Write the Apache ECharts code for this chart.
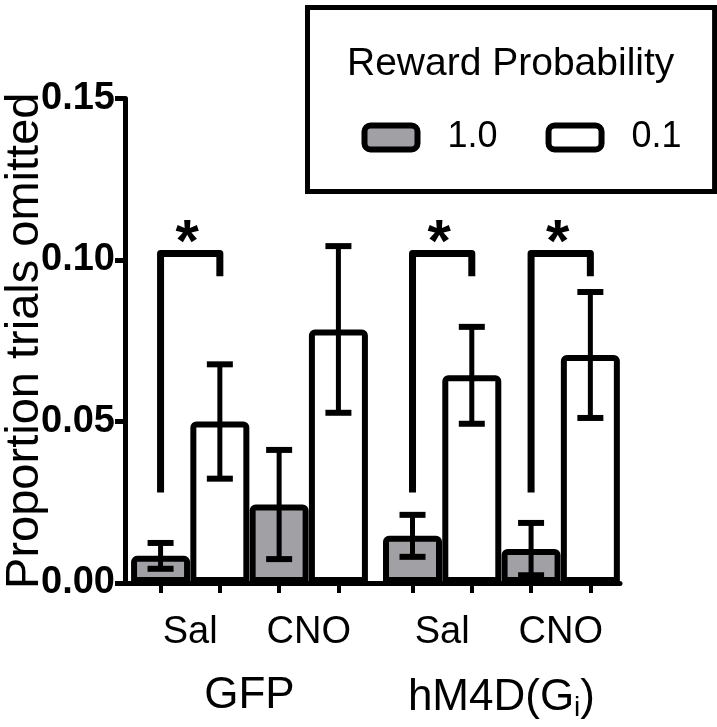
<!DOCTYPE html>
<html><head><meta charset="utf-8">
<script src="https://cdn.jsdelivr.net/npm/echarts@6/dist/echarts.min.js"></script>
<style>html,body{margin:0;padding:0;background:#fff}#c{width:717px;height:727px}</style>
</head><body><div id="c"></div>
<script>
// ---- data ----
const conditions = ['Sal', 'CNO', 'Sal', 'CNO'];
const genotypeLabels = ['GFP', 'hM4D(G{sub|i})'];
const seriesNames = ['1.0', '0.1'];
const mean10 = [0.0084, 0.0243, 0.0146, 0.0105];
const sem10  = [0.0040, 0.0169, 0.0065, 0.0081];
const mean01 = [0.0500, 0.0785, 0.0643, 0.0706];
const sem01  = [0.0177, 0.0258, 0.0150, 0.0195];
const yTicks = [0.00, 0.05, 0.10, 0.15];
// significance brackets (condition index, left-leg bottom, top, right-leg bottom)
const sigCond = [0, 2, 3];
const sigLeftBottom = [0.028, 0.028, 0.028];
const sigTop = [0.102, 0.102, 0.102];
const sigRightBottom = [0.095, 0.095, 0.095];

// ---- layout helpers ----
const GAP = 0.25; // extra space between genotype groups, in bar slots
const pos = (ci, s) => 2 * ci + s + GAP * Math.floor(ci / 2);
const condCenters = conditions.map((c, i) => pos(i, 0.5));
const genoCenters = genotypeLabels.map((g, gi) => (pos(2 * gi, 0) + pos(2 * gi + 1, 1)) / 2);
const tickPos = [];
conditions.forEach((c, i) => { tickPos.push(pos(i, 0), pos(i, 1)); });

const FONT = 'Liberation Sans, Arial, sans-serif';
const GREY = '#a0a0a5';

const barData10 = conditions.map((c, i) => [pos(i, 0), mean10[i]]);
const barData01 = conditions.map((c, i) => [pos(i, 1), mean01[i]]);
const errData = conditions.map((c, i) => [pos(i, 0), mean10[i], sem10[i]])
  .concat(conditions.map((c, i) => [pos(i, 1), mean01[i], sem01[i]]));
const sigData = sigCond.map((ci, k) => [pos(ci, 0), pos(ci, 1), sigLeftBottom[k], sigTop[k], sigRightBottom[k]]);

function findLabel(v, centers, labels) {
  for (let i = 0; i < centers.length; i++) if (Math.abs(v - centers[i]) < 1e-6) return labels[i];
  return '';
}

const chart = echarts.init(document.getElementById('c'));
chart.setOption({
  animation: false,
  backgroundColor: '#fff',
  title: {
    text: 'Reward Probability',
    left: 347, top: 45, padding: 0,
    textStyle: { fontFamily: FONT, fontSize: 39, fontWeight: 'normal', color: '#000' }
  },
  legend: {
    left: 307.5, top: 7.5,
    padding: [112, 33, 36, 54],
    itemGap: 48,
    itemWidth: 53, itemHeight: 24,
    icon: 'roundRect',
    selectedMode: false,
    borderColor: '#000', borderWidth: 5,
    itemStyle: { borderColor: '#000', borderWidth: 6 },
    textStyle: { fontFamily: FONT, fontSize: 36, color: '#000', padding: [0, 0, 0, 25] },
    data: seriesNames
  },
  grid: { left: 125, right: 97, top: 98.5, bottom: 144, containLabel: false, outerBoundsMode: 'none' },
  xAxis: [{
    type: 'value', min: -0.6, max: 7.75,
    axisLine: { show: true, onZero: false, lineStyle: { color: '#000', width: 5 } },
    axisTick: { show: true, customValues: tickPos, length: 10, lineStyle: { color: '#000', width: 4 } },
    axisLabel: {
      customValues: condCenters, margin: 31,
      fontFamily: FONT, fontSize: 38, color: '#000',
      formatter: v => findLabel(v, condCenters, conditions)
    },
    splitLine: { show: false }
  }, {
    type: 'value', min: -0.6, max: 7.75, position: 'bottom', offset: 0,
    axisLine: { show: false, onZero: false }, axisTick: { show: false },
    axisLabel: {
      customValues: genoCenters, margin: 91,
      fontFamily: FONT, fontSize: 44, color: '#000',
      formatter: v => findLabel(v, genoCenters, genotypeLabels),
      rich: { sub: { fontFamily: FONT, fontSize: 28, color: '#000', verticalAlign: 'bottom', padding: [20, 0, 0, 0] } }
    },
    splitLine: { show: false }
  }],
  yAxis: {
    type: 'value', min: yTicks[0], max: yTicks[yTicks.length - 1], interval: yTicks[1] - yTicks[0],
    name: 'Proportion trials omitted', nameLocation: 'middle', nameGap: 76, nameMoveOverlap: false,
    nameTextStyle: { fontFamily: FONT, fontSize: 47, color: '#000' },
    axisLine: { show: true, onZero: false, lineStyle: { color: '#000', width: 5 } },
    axisTick: { show: true, length: 10, lineStyle: { color: '#000', width: 5 } },
    axisLabel: { margin: 10, fontFamily: FONT, fontSize: 38, fontWeight: 'bold', color: '#000', formatter: v => v.toFixed(2) },
    splitLine: { show: false }
  },
  series: [{
    name: seriesNames[0], type: 'bar', barWidth: 59, barGap: '-100%',
    itemStyle: { color: GREY, borderColor: '#000', borderWidth: 6, borderRadius: [3, 3, 0, 0] },
    data: barData10, z: 2
  }, {
    name: seriesNames[1], type: 'bar', barWidth: 59, barGap: '-100%',
    itemStyle: { color: '#fff', borderColor: '#000', borderWidth: 6, borderRadius: [3, 3, 0, 0] },
    data: barData01, z: 2
  }, {
    type: 'custom', z: 4, silent: true,
    encode: { x: 0, y: 1 },
    data: errData,
    renderItem: (params, api) => {
      const x = api.value(0), m = api.value(1), e = api.value(2);
      const t = api.coord([x, m + e]), b = api.coord([x, m - e]);
      const hw = 13;
      const st = { stroke: '#000', lineWidth: 5 };
      return { type: 'group', children: [
        { type: 'line', shape: { x1: t[0], y1: t[1], x2: b[0], y2: b[1] }, style: st },
        { type: 'line', shape: { x1: t[0] - hw, y1: t[1], x2: t[0] + hw, y2: t[1] }, style: { stroke: '#000', lineWidth: 6 } },
        { type: 'line', shape: { x1: b[0] - hw, y1: b[1], x2: b[0] + hw, y2: b[1] }, style: { stroke: '#000', lineWidth: 6 } }
      ] };
    }
  }, {
    type: 'custom', z: 4, silent: true,
    encode: { x: [0, 1], y: [2, 3, 4] },
    data: sigData,
    renderItem: (params, api) => {
      const xl = api.value(0), xr = api.value(1);
      const p1 = api.coord([xl, api.value(2)]);
      const p2 = api.coord([xl, api.value(3)]);
      const p3 = api.coord([xr, api.value(3)]);
      const p4 = api.coord([xr, api.value(4)]);
      return { type: 'group', children: [
        { type: 'polyline', shape: { points: [p1, p2, p3, p4] },
          style: { stroke: '#000', lineWidth: 7, fill: null, lineJoin: 'round', lineCap: 'butt' } },
        { type: 'text', x: (p2[0] + p3[0]) / 2 - 3, y: p2[1] - 9,
          style: { text: '*', fill: '#000', font: 'bold 60px ' + FONT, align: 'center', verticalAlign: 'middle' } }
      ] };
    }
  }]
});
</script>
</body></html>
